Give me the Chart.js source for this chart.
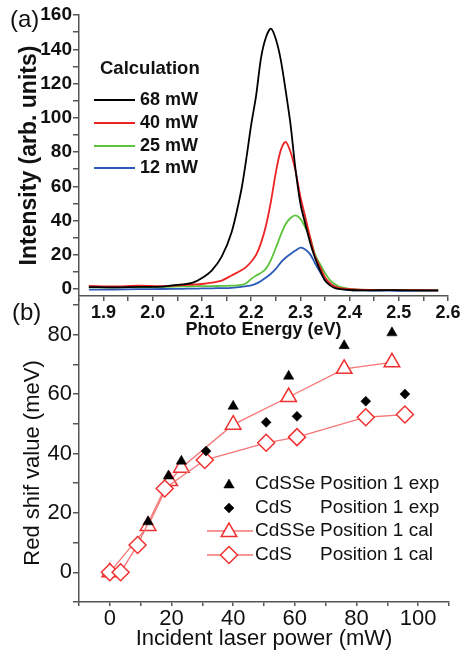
<!DOCTYPE html>
<html>
<head>
<meta charset="utf-8">
<script src="https://cdn.jsdelivr.net/npm/chart.js@4.4.1/dist/chart.umd.min.js"></script>
<style>
  body { margin: 0; background: #fff; }
  #wrap { position: relative; width: 463px; height: 653px; background: #fff; }
  canvas { position: absolute; left: 0; }
</style>
</head>
<body>
<div id="wrap">
  <canvas id="chartB" width="463" height="373" style="top:280px"></canvas>
  <canvas id="chartA" width="463" height="342" style="top:0px"></canvas>
</div>
<script>
// ---- panel (a): calculated spectra ----
var energy = [1.87, 1.92, 1.97, 2.02, 2.06, 2.08, 2.10, 2.12, 2.14, 2.16, 2.18, 2.19, 2.20, 2.21, 2.22, 2.23, 2.24, 2.25, 2.26, 2.27, 2.28, 2.29, 2.30, 2.31, 2.32, 2.33, 2.34, 2.35, 2.36, 2.37, 2.38, 2.40, 2.44, 2.48, 2.52, 2.58];
var spec68 = [1.2, 1.0, 1.3, 1.5, 2.8, 3.6, 6.5, 11, 19, 33, 58, 76, 96, 113, 135, 147, 152, 146, 134, 116, 96, 70, 50, 38, 27, 18, 11, 5, 2.2, 0.6, 0, -0.5, -0.7, -0.6, -0.7, -0.7];
var spec40 = [1.9, 1.6, 2.0, 1.8, 2.3, 2.7, 3.0, 3.8, 5.0, 8, 11, 13, 16, 20, 27, 37, 51, 68, 81, 86, 80, 69, 54, 42, 30, 19, 13, 7, 3.5, 1.5, 0.6, 0, -0.5, -0.6, -0.6, -0.7];
var spec25 = [1.0, 1.1, 1.2, 1.3, 1.6, 1.7, 1.8, 1.8, 1.9, 2.0, 2.5, 3.5, 6, 8, 9.5, 12, 17, 24, 31.5, 38, 41.5, 43, 41, 36, 30, 20, 14.5, 9.5, 5.3, 3, 1.3, 0.2, -0.5, -0.6, -0.6, -0.7];
var spec12 = [-0.3, -0.2, 0, 0.1, 0.2, 0.3, 0.4, 0.5, 0.6, 0.8, 1.3, 1.8, 2.2, 3.2, 4.8, 6.8, 9, 11.8, 15.5, 18.3, 20.5, 22.5, 24.2, 23.2, 20.3, 15, 10, 5.5, 3.3, 1.7, 0.4, -0.5, -0.8, -0.9, -1.0, -1.0];
var powerLabels = ["68 mW", "40 mW", "25 mW", "12 mW"];
var specColors = ["#000000", "#ee2323", "#5bc43a", "#2b5bb8"];
var intensityTicks = ["0", "20", "40", "60", "80", "100", "120", "140", "160"];
var energyTicks = ["1.9", "2.0", "2.1", "2.2", "2.3", "2.4", "2.5", "2.6"];

// ---- panel (b): red shift vs power ----
var cdsseExpP = [12.4, 19, 23.2, 40, 58, 76, 91.5];
var cdsseExpV = [17, 32.4, 37.4, 55.9, 66, 76.3, 80.6];
var cdsExpP = [31.2, 50.7, 60.7, 83, 95.7];
var cdsExpV = [40.8, 50.5, 52.5, 57.6, 60];
var cdsseCalP = [0, 12.4, 19.4, 23.2, 40, 58, 76, 91.5];
var cdsseCalV = [0, 15.6, 30.7, 35.2, 49.7, 59, 68.5, 70.7];
var cdsCalP = [0, 3.5, 9, 17.8, 30.8, 50.7, 60.7, 83, 95.7];
var cdsCalV = [0, 0, 9.2, 28.2, 37.8, 43.6, 45.5, 52.2, 53.1];
var powerTicks = ["0", "20", "40", "60", "80", "100"];
var shiftTicks = ["0", "20", "40", "60", "80"];

var FONT = 'Arial, "Liberation Sans", sans-serif';
var AXIS = '#555555';

function pts(xs, ys) {
    return xs.map(function (x, i) { return { x: x, y: ys[i] }; });
}
// major + minor tick marks between two values
function tickRange(from, to, step) {
    return function (axis) {
        var t = [];
        for (var v = from; v <= to + 1e-9; v += step) t.push({ value: Math.round(v * 1000) / 1000 });
        axis.ticks = t;
    };
}
// only label the ticks that are in the list
function labelIf(list) {
    return function (v) {
        for (var i = 0; i < list.length; i++) {
            if (Math.abs(parseFloat(list[i]) - v) < 1e-6) return list[i];
        }
        return '';
    };
}

var specSets = [spec68, spec40, spec25, spec12];

var panelA = {
    id: 'panelA',
    afterDraw: function (chart) {
        var ctx = chart.ctx;
        ctx.save();
        ctx.fillStyle = '#111';
        ctx.textBaseline = 'middle';
        ctx.font = '24px ' + FONT;
        ctx.fillText('(a)', 10, 20);
        ctx.font = 'bold 18.5px ' + FONT;
        ctx.fillText('Calculation', 100, 69);
        var rows = [100, 123, 146, 168];
        ctx.font = 'bold 18px ' + FONT;
        for (var i = 0; i < powerLabels.length; i++) {
            ctx.strokeStyle = specColors[i];
            ctx.lineWidth = 1.8;
            ctx.beginPath();
            ctx.moveTo(94, rows[i]);
            ctx.lineTo(135, rows[i]);
            ctx.stroke();
            ctx.fillStyle = '#111';
            ctx.fillText(powerLabels[i], 140, rows[i]);
        }
        ctx.restore();
    }
};

new Chart("chartA", {
    type: "line",
    data: {
        datasets: specSets.map(function (s, i) {
            return {
                label: powerLabels[i],
                data: pts(energy, s),
                borderColor: specColors[i],
                borderWidth: 1.8,
                pointRadius: 0,
                tension: 0.3,
                fill: false
            };
        })
    },
    options: {
        responsive: false,
        animation: false,
        layout: { padding: { top: 15, right: 15, left: 0, bottom: 0 } },
        plugins: { legend: { display: false }, tooltip: { enabled: false } },
        scales: {
            x: {
                type: 'linear',
                min: 1.85,
                max: 2.6,
                afterFit: function (s) { s.height = 46; },
                afterBuildTicks: tickRange(1.85, 2.6, 0.05),
                ticks: {
                    autoSkip: false,
                    maxRotation: 0,
                    padding: 1,
                    color: '#111',
                    font: { family: FONT, size: 18, weight: 'bold' },
                    callback: labelIf(energyTicks)
                },
                grid: { drawOnChartArea: false, tickLength: 5, color: AXIS, lineWidth: 1.5 },
                border: { color: AXIS, width: 1.5 },
                title: {
                    display: true,
                    text: 'Photo Energy (eV)',
                    color: '#111',
                    font: { family: FONT, size: 18, weight: 'bold' },
                    padding: { top: 0, bottom: 1 }
                }
            },
            y: {
                min: -4,
                max: 160,
                afterFit: function (s) { s.width = 79; },
                afterBuildTicks: tickRange(0, 160, 10),
                ticks: {
                    autoSkip: false,
                    padding: 1,
                    color: '#111',
                    font: { family: FONT, size: 19, weight: 'bold' },
                    callback: labelIf(intensityTicks)
                },
                grid: { drawOnChartArea: false, tickLength: 6, color: AXIS, lineWidth: 1.5 },
                border: { color: AXIS, width: 1.5 },
                title: {
                    display: true,
                    text: 'Intensity (arb. units)',
                    color: '#111',
                    font: { family: FONT, size: 23, weight: 'bold' },
                    padding: { top: 16, bottom: 0 }
                }
            }
        }
    },
    plugins: [panelA]
});

// panel (b)
var calLine = '#f47676';
var calMark = '#f03030';

var panelB = {
    id: 'panelB',
    afterDraw: function (chart) {
        var ctx = chart.ctx;
        ctx.save();
        ctx.fillStyle = '#111';
        ctx.textBaseline = 'middle';
        ctx.font = '24px ' + FONT;
        ctx.fillText('(b)', 12, 33);
        // y axis title
        ctx.save();
        ctx.translate(33, 183);
        ctx.rotate(-Math.PI / 2);
        ctx.textAlign = 'center';
        ctx.font = '22px ' + FONT;
        ctx.fillText('Red shif value (meV)', 0, 0);
        ctx.restore();
        var rows = [204, 228, 251, 275];
        ctx.font = '19px ' + FONT;
        chart.data.datasets.forEach(function (ds, i) {
            var y = rows[i];
            if (ds.showLine) {
                ctx.strokeStyle = ds.borderColor;
                ctx.lineWidth = ds.borderWidth;
                ctx.beginPath();
                ctx.moveTo(207, y);
                ctx.lineTo(253, y);
                ctx.stroke();
            }
            ctx.fillStyle = ds.pointBackgroundColor;
            ctx.strokeStyle = ds.pointBorderColor;
            ctx.lineWidth = ds.pointBorderWidth;
            Chart.helpers.drawPoint(ctx, {
                pointStyle: ds.pointStyle,
                radius: ds.pointRadius,
                rotation: 0,
                borderWidth: ds.pointBorderWidth
            }, 229, y + (ds.pointStyle === 'triangle' ? 1 : 0));
            var parts = ds.label.split(' ');
            ctx.fillStyle = '#111';
            ctx.fillText(parts[0], 255, y);
            ctx.fillText(parts.slice(1).join(' '), 320, y);
        });
        ctx.restore();
    }
};

new Chart("chartB", {
    type: "scatter",
    data: {
        datasets: [
            {
                label: 'CdSSe Position 1 exp',
                data: pts(cdsseExpP, cdsseExpV),
                order: 0,
                showLine: false,
                pointStyle: 'triangle',
                pointRadius: 6,
                pointBackgroundColor: '#000',
                pointBorderColor: '#000',
                pointBorderWidth: 0.5
            },
            {
                label: 'CdS Position 1 exp',
                data: pts(cdsExpP, cdsExpV),
                order: 0,
                showLine: false,
                pointStyle: 'rectRot',
                pointRadius: 5,
                pointBackgroundColor: '#000',
                pointBorderColor: '#000',
                pointBorderWidth: 0.5
            },
            {
                label: 'CdSSe Position 1 cal',
                data: pts(cdsseCalP, cdsseCalV),
                order: 2,
                showLine: true,
                borderColor: calLine,
                borderWidth: 1.3,
                pointStyle: 'triangle',
                pointRadius: 9,
                pointBackgroundColor: '#ffffff',
                pointBorderColor: calMark,
                pointBorderWidth: 1.5
            },
            {
                label: 'CdS Position 1 cal',
                data: pts(cdsCalP, cdsCalV),
                order: 1,
                showLine: true,
                borderColor: calLine,
                borderWidth: 1.3,
                pointStyle: 'rectRot',
                pointRadius: 8.5,
                pointBackgroundColor: '#ffffff',
                pointBorderColor: calMark,
                pointBorderWidth: 1.5
            }
        ]
    },
    options: {
        responsive: false,
        animation: false,
        layout: { padding: { top: 19, right: 14, left: 0, bottom: 0 } },
        plugins: { legend: { display: false }, tooltip: { enabled: false } },
        scales: {
            x: {
                type: 'linear',
                min: -10,
                max: 110,
                afterFit: function (s) { s.height = 51; },
                afterBuildTicks: tickRange(-10, 110, 10),
                ticks: {
                    autoSkip: false,
                    maxRotation: 0,
                    padding: 0,
                    color: '#111',
                    font: { family: FONT, size: 22 },
                    callback: labelIf(powerTicks)
                },
                grid: { drawOnChartArea: false, tickLength: 4, color: AXIS, lineWidth: 1.5 },
                border: { color: AXIS, width: 1.5 },
                title: {
                    display: true,
                    text: 'Incident laser power (mW)',
                    color: '#111',
                    font: { family: FONT, size: 22 },
                    padding: { top: 0, bottom: 1 }
                }
            },
            y: {
                min: -10,
                max: 92,
                afterFit: function (s) { s.width = 79; },
                afterBuildTicks: tickRange(-10, 90, 10),
                ticks: {
                    autoSkip: false,
                    padding: 1,
                    color: '#111',
                    font: { family: FONT, size: 22 },
                    callback: labelIf(shiftTicks)
                },
                grid: { drawOnChartArea: false, tickLength: 6, color: AXIS, lineWidth: 1.5 },
                border: { color: AXIS, width: 1.5 }
            }
        }
    },
    plugins: [panelB]
});
</script>
</body>
</html>
